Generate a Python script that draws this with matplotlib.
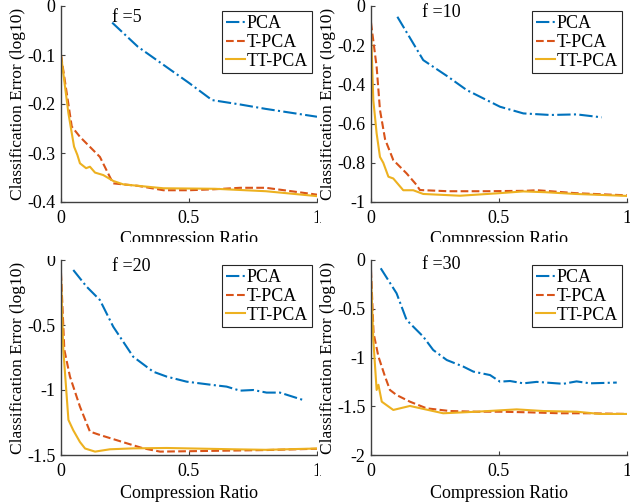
import matplotlib
matplotlib.use("Agg")
import matplotlib.pyplot as plt
from matplotlib.patches import Rectangle
from matplotlib.ticker import FormatStrFormatter

plt.rcParams['font.family'] = ['Liberation Serif', 'DejaVu Serif']
plt.rcParams['axes.unicode_minus'] = False
plt.rcParams['font.size'] = 13

# ---- data ----
f_values = [5, 10, 20, 30]
labels = ['PCA', 'T-PCA', 'TT-PCA']

# f = 5
pca5_x = [0.2, 0.3, 0.4, 0.5, 0.59, 0.7, 0.8, 0.9, 1.0]
pca5_y = [-0.034, -0.083, -0.12, -0.157, -0.192, -0.201, -0.210, -0.218, -0.226]
tpca5_x = [0.0, 0.042, 0.074, 0.152, 0.19, 0.204, 0.3, 0.4, 0.5, 0.6, 0.7, 0.8, 0.9, 1.0]
tpca5_y = [-0.10, -0.246, -0.267, -0.308, -0.348, -0.362, -0.367, -0.376, -0.376, -0.374, -0.371, -0.371, -0.378, -0.385]
ttpca5_x = [0.0, 0.029, 0.051, 0.064, 0.074, 0.098, 0.113, 0.133, 0.165, 0.204, 0.243, 0.4, 0.6, 0.8, 1.0]
ttpca5_y = [-0.10, -0.219, -0.287, -0.304, -0.321, -0.331, -0.328, -0.340, -0.345, -0.357, -0.364, -0.372, -0.373, -0.378, -0.388]

# f = 10
pca10_x = [0.103, 0.204, 0.3, 0.374, 0.504, 0.595, 0.70, 0.803, 0.901]
pca10_y = [-0.055, -0.276, -0.36, -0.429, -0.514, -0.548, -0.556, -0.553, -0.568]
tpca10_x = [0.0, 0.022, 0.035, 0.055, 0.087, 0.139, 0.178, 0.191, 0.3, 0.45, 0.6, 0.65, 0.8, 1.0]
tpca10_y = [-0.085, -0.31, -0.53, -0.68, -0.786, -0.854, -0.913, -0.939, -0.945, -0.945, -0.943, -0.940, -0.955, -0.966]
ttpca10_x = [0.0, 0.009, 0.022, 0.035, 0.048, 0.068, 0.087, 0.113, 0.126, 0.165, 0.204, 0.348, 0.49, 0.595, 0.68, 0.80, 1.0]
ttpca10_y = [-0.12, -0.48, -0.65, -0.77, -0.80, -0.871, -0.88, -0.92, -0.94, -0.94, -0.959, -0.968, -0.956, -0.946, -0.95, -0.959, -0.969]

# f = 20
pca20_x = [0.048, 0.10, 0.152, 0.204, 0.282, 0.36, 0.413, 0.491, 0.595, 0.647, 0.699, 0.751, 0.803, 0.855, 0.946]
pca20_y = [-0.077, -0.205, -0.308, -0.513, -0.744, -0.859, -0.897, -0.936, -0.962, -0.974, -1.005, -1.0, -1.02, -1.02, -1.077]
tpca20_x = [0.0, 0.013, 0.035, 0.074, 0.113, 0.152, 0.257, 0.322, 0.387, 0.6, 0.8, 1.0]
tpca20_y = [-0.10, -0.69, -0.897, -1.128, -1.32, -1.346, -1.41, -1.449, -1.474, -1.468, -1.462, -1.452]
ttpca20_x = [0.0, 0.009, 0.029, 0.048, 0.074, 0.094, 0.133, 0.191, 0.282, 0.413, 0.673, 0.80, 1.0]
ttpca20_y = [-0.13, -0.69, -1.23, -1.31, -1.40, -1.45, -1.474, -1.456, -1.449, -1.446, -1.456, -1.46, -1.45]

# f = 30
pca30_x = [0.038, 0.10, 0.139, 0.204, 0.243, 0.296, 0.361, 0.40, 0.465, 0.504, 0.543, 0.595, 0.647, 0.751, 0.803, 0.855, 0.96]
pca30_y = [-0.085, -0.342, -0.615, -0.786, -0.923, -1.026, -1.094, -1.145, -1.18, -1.248, -1.241, -1.265, -1.25, -1.27, -1.245, -1.265, -1.257]
tpca30_x = [0.0, 0.01, 0.029, 0.055, 0.074, 0.10, 0.152, 0.217, 0.308, 0.413, 0.504, 0.61, 0.74, 0.85, 1.0]
tpca30_y = [-0.103, -0.75, -0.99, -1.197, -1.333, -1.385, -1.453, -1.521, -1.549, -1.556, -1.556, -1.562, -1.572, -1.572, -1.579]
ttpca30_x = [0.0, 0.009, 0.022, 0.029, 0.042, 0.087, 0.152, 0.282, 0.413, 0.569, 0.673, 0.803, 0.894, 1.0]
ttpca30_y = [-0.17, -0.82, -1.333, -1.28, -1.453, -1.538, -1.497, -1.572, -1.556, -1.532, -1.549, -1.556, -1.579, -1.579]

panels = [
    (f_values[0], [(pca5_x, pca5_y), (tpca5_x, tpca5_y), (ttpca5_x, ttpca5_y)], (-0.4, 0), [0, -0.1, -0.2, -0.3, -0.4]),
    (f_values[1], [(pca10_x, pca10_y), (tpca10_x, tpca10_y), (ttpca10_x, ttpca10_y)], (-1, 0), [0, -0.2, -0.4, -0.6, -0.8, -1]),
    (f_values[2], [(pca20_x, pca20_y), (tpca20_x, tpca20_y), (ttpca20_x, ttpca20_y)], (-1.5, 0), [0, -0.5, -1, -1.5]),
    (f_values[3], [(pca30_x, pca30_y), (tpca30_x, tpca30_y), (ttpca30_x, ttpca30_y)], (-2, 0), [0, -0.5, -1, -1.5, -2]),
]

# layout (figure fractions) and styles
W, H = 630, 504
axes_px = [(61, 6, 256, 196), (371, 6, 256, 196), (61, 260, 256, 195), (371, 260, 256, 195)]
ftext_y = [0.941, 0.967, 0.969, 0.979]
zorders = [0, 0, 0, 2]
colors = ['#0072BD', '#D95319', '#EDB120']
styles = ['-.', '--', '-']

fig = plt.figure(figsize=(6.3, 5.04), dpi=100)

for (f, series, ylim, yticks), (x0, y0, w, h), ty, zo in zip(panels, axes_px, ftext_y, zorders):
    ax = fig.add_axes([x0 / W, 1 - (y0 + h) / H, w / W, h / H], zorder=zo)
    for (xs, ys), c, ls, lab in zip(series, colors, styles, labels):
        ax.plot(xs, ys, color=c, linestyle=ls, lw=1.5, label=lab)
    ax.set_xlim(0, 1)
    ax.set_ylim(*ylim)
    ax.set_xticks([0, 0.5, 1])
    ax.set_yticks(yticks)
    ax.xaxis.set_major_formatter(FormatStrFormatter('%g'))
    ax.yaxis.set_major_formatter(FormatStrFormatter('%g'))
    ax.tick_params(direction='in', length=3, width=0.8, color='#404040', labelsize=13)
    ax.tick_params(axis='x', pad=6)
    ax.tick_params(axis='y', pad=4)
    for s in ['top', 'right']:
        ax.spines[s].set_visible(False)
    for s in ['left', 'bottom']:
        ax.spines[s].set_color('#404040')
        ax.spines[s].set_linewidth(1.0)
    ax.set_xlabel('Compression Ratio', fontsize=13, labelpad=3)
    ax.set_ylabel('Classification Error (log10)', fontsize=12.5, labelpad=1)
    ax.text(0.2, ty, 'f =%d' % f, transform=ax.transAxes, va='center', ha='left', fontsize=13)
    leg = ax.legend(loc='upper right', fontsize=13, frameon=True, fancybox=False,
                    edgecolor='#262626', framealpha=1, borderpad=0.2, labelspacing=0.1,
                    handlelength=1.05, handletextpad=0.1, borderaxespad=0.3)
    leg.get_frame().set_linewidth(0.8)

# white bands where the original sub-images were cropped
fig.patches.append(Rectangle((0, 1 - 256 / H), 1, 14 / H, transform=fig.transFigure,
                             facecolor='white', edgecolor='none', zorder=1))
fig.patches.append(Rectangle((317.5 / W, 0), 2.5 / W, 1, transform=fig.transFigure,
                             facecolor='white', edgecolor='none', zorder=1))

fig.savefig('out.png', dpi=100)
